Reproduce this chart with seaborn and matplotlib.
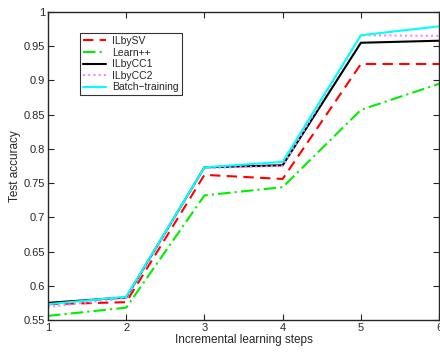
import matplotlib
matplotlib.use("Agg")
import matplotlib.pyplot as plt
import seaborn as sns
import pandas as pd

steps = [1, 2, 3, 4, 5, 6]
ilbysv = [0.573, 0.576, 0.762, 0.756, 0.924, 0.924]
learnpp = [0.556, 0.568, 0.732, 0.744, 0.857, 0.895]
ilbycc1 = [0.575, 0.583, 0.773, 0.776, 0.955, 0.958]
ilbycc2 = [0.569, 0.582, 0.772, 0.775, 0.966, 0.965]
batch = [0.573, 0.584, 0.773, 0.781, 0.966, 0.979]

names = ["ILbySV", "Learn++", "ILbyCC1", "ILbyCC2", "Batch\u2212training"]
series = [ilbysv, learnpp, ilbycc1, ilbycc2, batch]
colors = ["#ff0000", "#00ee00", "#000000", "#ff80ff", "#00ffff"]
styles = [(0, (5, 3)), (0, (6, 2, 1, 2)), "-", (0, (1, 1.5)), "-"]

sns.set_style("ticks")
plt.rcParams["font.family"] = ["Liberation Sans", "DejaVu Sans"]

fig = plt.figure(figsize=(4.4, 3.52), dpi=100)
ax = fig.add_axes([0.109, 0.091, 0.889, 0.875])

for name, vals, c, ls in zip(names, series, colors, styles):
    df = pd.DataFrame({"step": steps, "acc": vals})
    sns.lineplot(data=df, x="step", y="acc", ax=ax, color=c, linestyle=ls,
                 linewidth=1.5, label=name)

ax.set_xlim(1, 6)
ax.set_ylim(0.55, 1.0)
ax.set_xticks(steps)
ax.set_yticks([0.55, 0.6, 0.65, 0.7, 0.75, 0.8, 0.85, 0.9, 0.95, 1.0])
ax.set_yticklabels(["0.55", "0.6", "0.65", "0.7", "0.75", "0.8", "0.85", "0.9", "0.95", "1"])
ax.tick_params(direction="in", length=4, width=0.8, labelsize=8, top=True, right=True, pad=2)
for s in ax.spines.values():
    s.set_linewidth(1.0)
    s.set_visible(True)
ax.set_xlabel("Incremental learning steps", fontsize=8.5, labelpad=1)
ax.set_ylabel("Test accuracy", fontsize=8.5, labelpad=2)

leg = ax.legend(loc="upper left", bbox_to_anchor=(0.082, 0.932), borderaxespad=0,
                fontsize=7.5, frameon=True, fancybox=False, edgecolor="black",
                handlelength=2.2, handletextpad=0.6, labelspacing=0.15, borderpad=0.3)
leg.get_frame().set_linewidth(0.8)

fig.savefig("out.png", dpi=100)
